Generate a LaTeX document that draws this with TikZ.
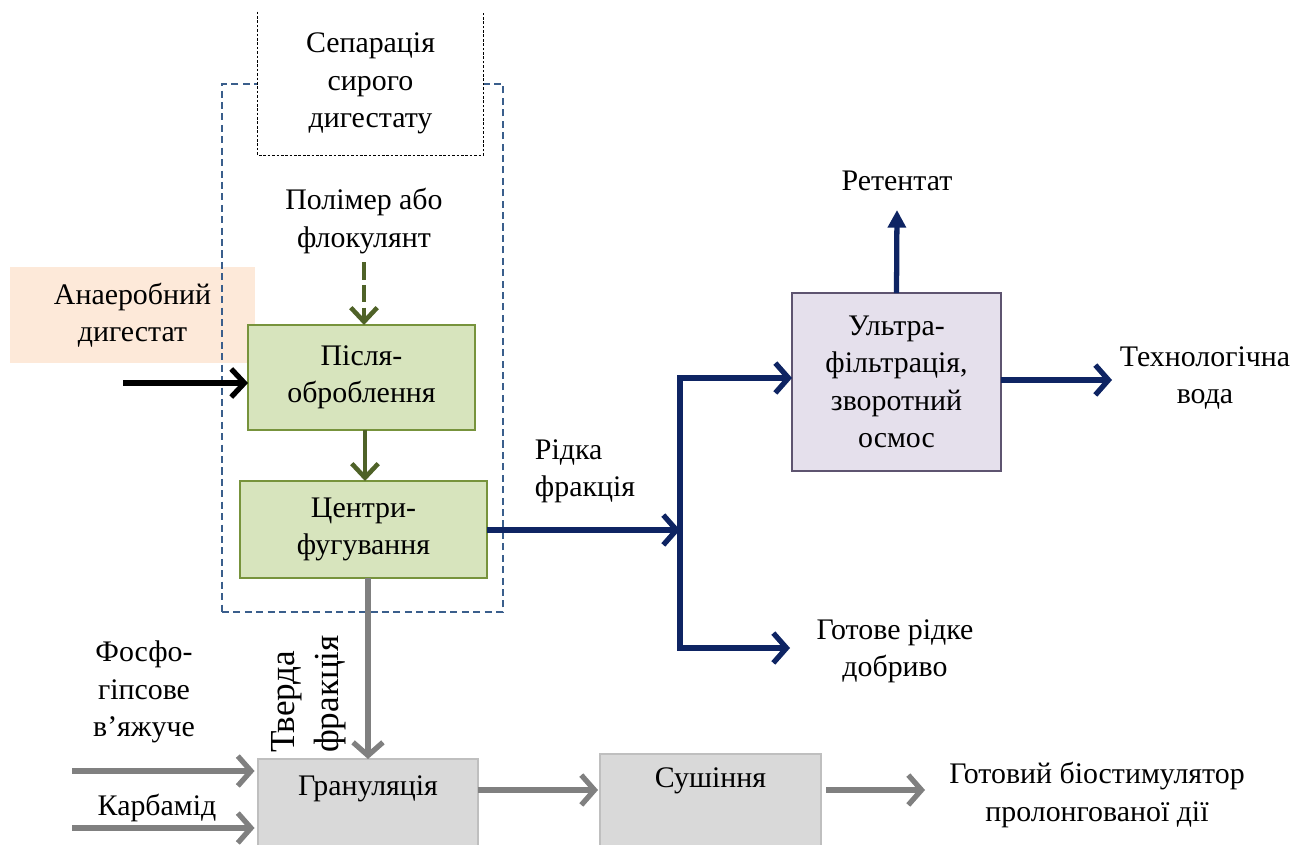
\documentclass[tikz,border=0pt]{standalone}
\usepackage{fontspec}
\setmainfont{Liberation Serif}
\usetikzlibrary{arrows.meta}

\definecolor{navy}{HTML}{0E2463}
\definecolor{olive}{HTML}{4F6228}
\definecolor{greenfill}{HTML}{D7E4BD}
\definecolor{greenline}{HTML}{77933C}
\definecolor{lilacfill}{HTML}{E5E0EC}
\definecolor{lilacline}{HTML}{5E5470}
\definecolor{greyflow}{HTML}{808080}
\definecolor{greyfill}{HTML}{D9D9D9}
\definecolor{greyline}{HTML}{BFBFBF}
\definecolor{frameblue}{HTML}{3A5E8C}
\definecolor{peach}{HTML}{FDE9D9}

\tikzset{
  txt/.style={font=\fontsize{17}{21.3}\selectfont, align=center, inner sep=0pt},
  box/.style={txt, inner sep=0pt, outer sep=0pt, line width=0.8pt},
  greenbox/.style={box, draw=greenline, fill=greenfill},
  lilacbox/.style={box, draw=lilacline, fill=lilacfill},
  greybox/.style={box, draw=greyline, fill=greyfill},
  navyflow/.style={draw=navy, line width=3pt, line cap=butt,
    -{Straight Barb[length=7.5pt,width=17pt,line width=3pt]}},
  navyline/.style={draw=navy, line width=3pt},
  navyup/.style={draw=navy, line width=3pt,
    -{Triangle[length=10pt,width=10pt]}},
  greyarrow/.style={draw=greyflow, line width=3pt,
    -{Straight Barb[length=7.5pt,width=17pt,line width=3pt]}},
  greenarrow/.style={draw=olive, line width=2.6pt,
    -{Straight Barb[length=8pt,width=15pt,line width=2.6pt]}},
  blackarrow/.style={draw=black, line width=3pt,
    -{Straight Barb[length=7.5pt,width=16pt,line width=3pt]}},
}

\begin{document}
\begin{tikzpicture}[x=0.02cm,y=-0.02cm]
\useasboundingbox (0,0) rectangle (1295,845);
\clip (0,0) rectangle (1295,845);

% input label on a peach panel
\node[box, fill=peach, minimum width=4.9cm, minimum height=1.92cm] (raw) at (132.5,315)
  {Анаеробний\\дигестат};

% separation stage frame
\node[draw=frameblue, line width=0.9pt, dash pattern=on 4pt off 2.5pt,
  minimum width=5.62cm, minimum height=10.56cm, inner sep=0pt, outer sep=0pt] (grp) at (362.5,348) {};
\node[txt, fill=white, minimum width=4.5cm, minimum height=2.86cm] (sep) at (370.5,83.5)
  {Сепарація\\сирого\\дигестату};
\draw[black, line width=0.6pt, dash pattern=on 1.5pt off 1pt]
  (sep.north west) -- (sep.south west) -- (sep.south east) -- (sep.north east);

\node[txt] (poly) at (364,221) {Полімер або\\флокулянт};
\node[greenbox, minimum width=4.54cm, minimum height=2.1cm] (post) at (361.5,377.5)
  {Після-\\оброблення};
\node[greenbox, minimum width=4.94cm, minimum height=1.94cm] (cent) at (363.5,529.5)
  {Центри-\\фугування};

\draw[greenarrow, dash pattern=on 10pt off 3pt] (364,262) -- (post.north -| 364,0);
\draw[greenarrow] (post.south -| 365,0) -- (cent.north -| 365,0);

\coordinate (src) at (123,383);
\draw[blackarrow] (src) -- (post.west |- src);

% liquid fraction
\coordinate (split) at (680,530);
\coordinate (jtop) at (680,378);
\coordinate (jbot) at (680,648);
\node[txt, align=left] (liqlbl) at (585,471) {Рідка\\фракція};
\draw[navyflow] (cent.east |- split) -- (split);
\draw[navyline] (jtop) -- (jbot);

\node[lilacbox, minimum width=4.18cm, minimum height=3.56cm] (ultra) at (896.5,382)
  {Ультра-\\фільтрація,\\зворотний\\осмос};
\draw[navyflow] ([xshift=-1.5pt]jtop) -- (ultra.west |- jtop);

\node[txt] (ret) at (897,181) {Ретентат};
\draw[navyup] (ultra.north) -- (897,210);

\node[txt] (water) at (1205,378) {Технологічна\\вода};
\draw[navyflow] (ultra.east |- 0,380) -- (1112,380);

\node[txt] (liq) at (895,651) {Готове рідке\\добриво};
\draw[navyflow] ([xshift=-1.5pt]jbot) -- (790,648);

% solid fraction and granulation
\node[greybox, minimum width=4.4cm, minimum height=2.22cm] (gran) at (368,814.5) {};
\node[txt] (granlbl) at (368,789) {Грануляція};
\node[greybox, minimum width=4.42cm, minimum height=2.32cm] (sush) at (710.5,812) {};
\node[txt] (sushlbl) at (710.5,781) {Сушіння};

\node[txt, font=\fontsize{20}{25}\selectfont, rotate=90, align=left] (solid) at (309,694) {Тверда\\фракція};
\draw[greyarrow] (cent.south -| gran.north) -- (gran.north);

\node[txt] (phos) at (144,692) {Фосфо-\\гіпсове\\в’яжуче};
\node[txt] (urea) at (157,808) {Карбамід};
\coordinate (in1) at (72,771);
\coordinate (in2) at (72,828);
\draw[greyarrow] (in1) -- ([xshift=-2pt]gran.west |- in1);
\draw[greyarrow] (in2) -- ([xshift=-2pt]gran.west |- in2);

\draw[greyarrow] (gran.east |- 0,790) -- (598,790);

\node[txt] (prod) at (1097,795) {Готовий біостимулятор\\пролонгованої дії};
\draw[greyarrow] (826,790) -- (925,790);
\end{tikzpicture}
\end{document}
